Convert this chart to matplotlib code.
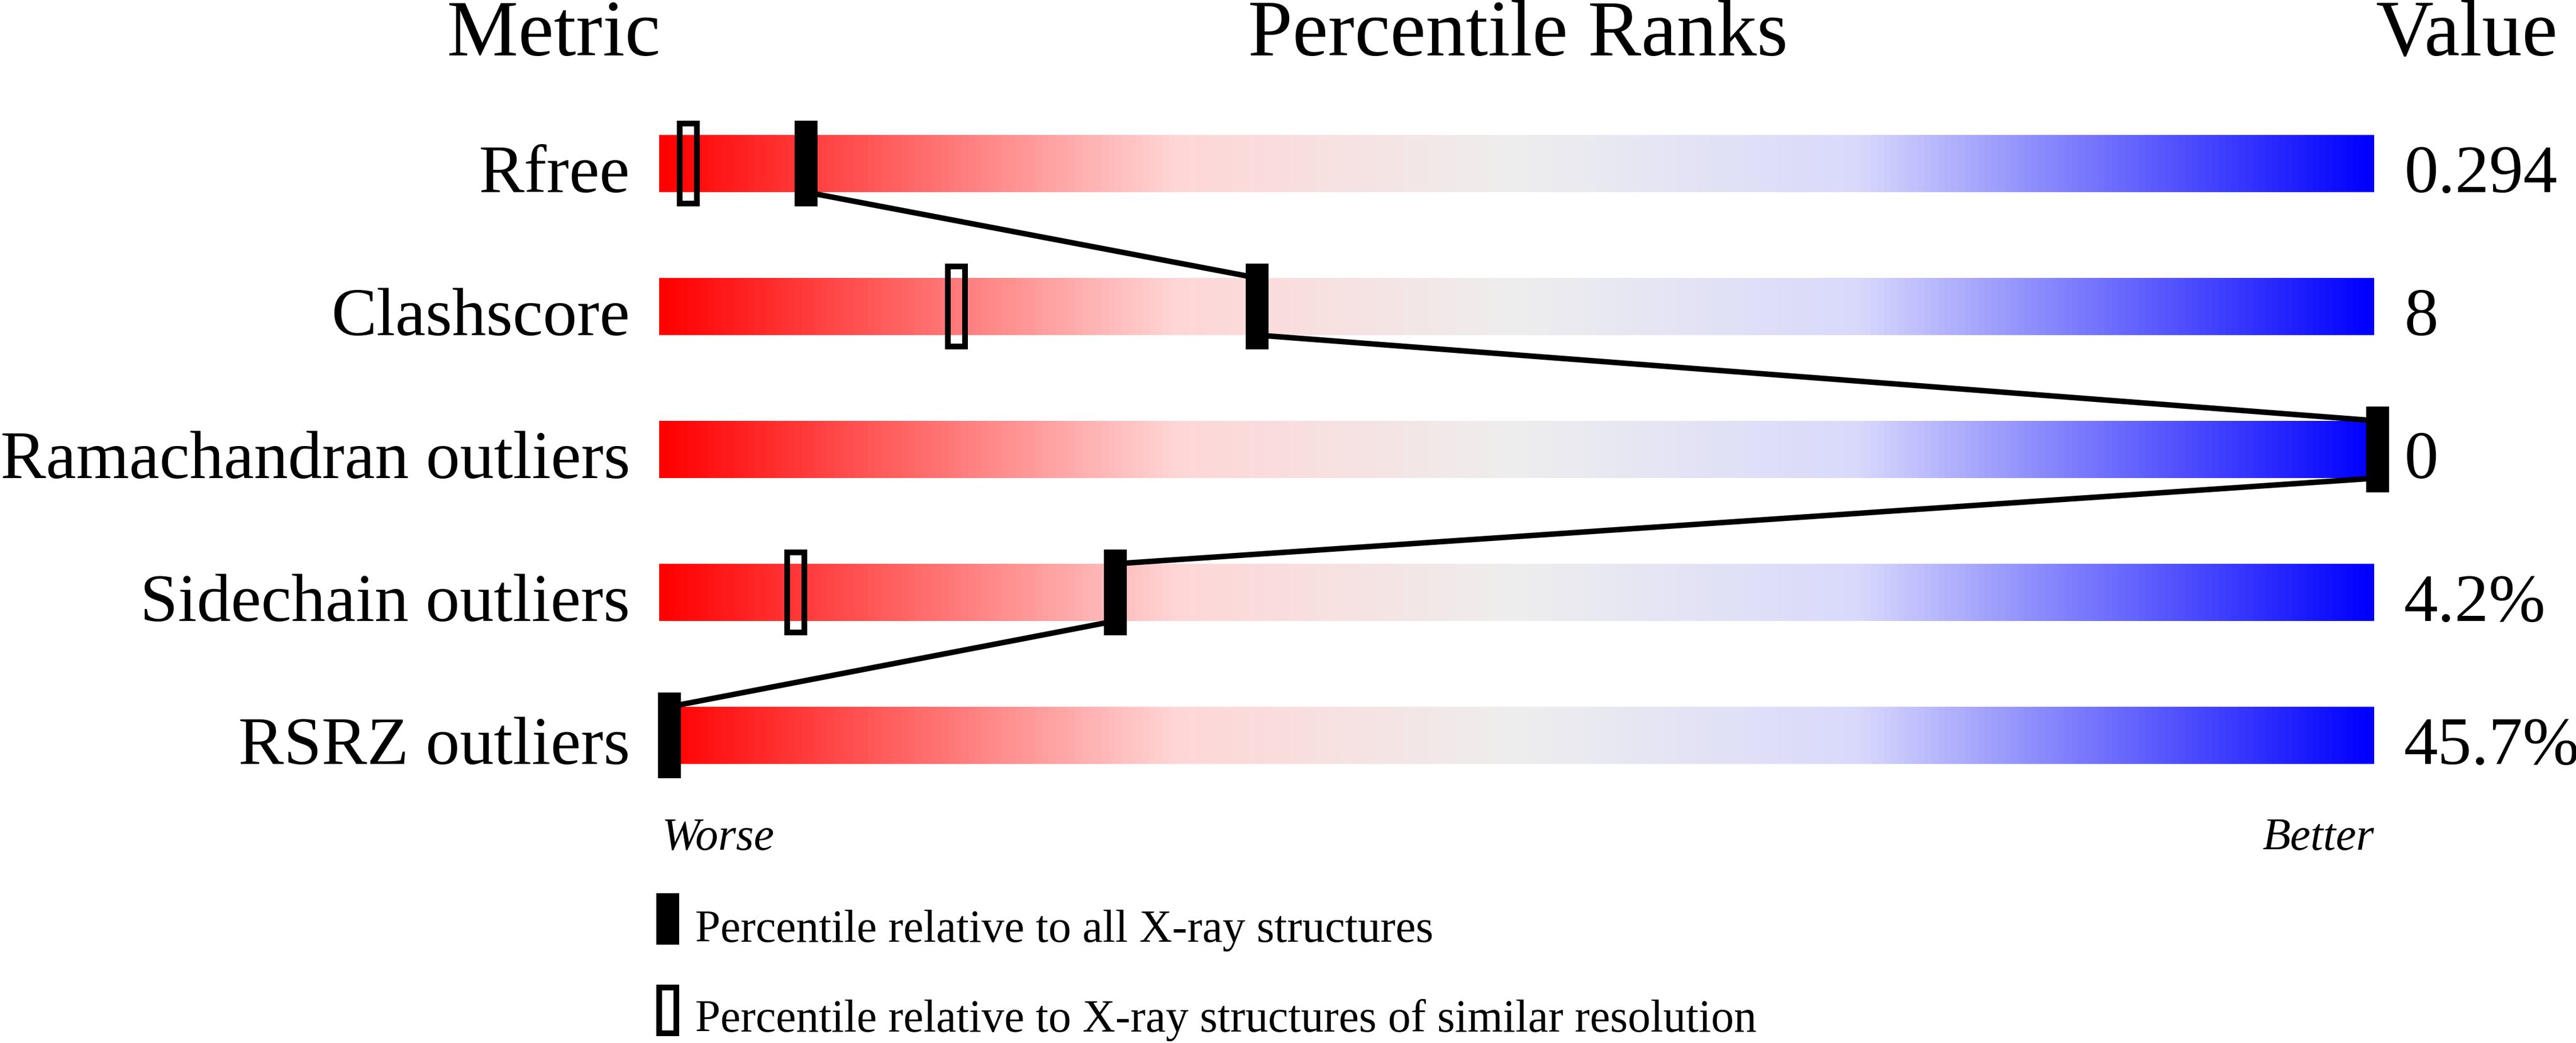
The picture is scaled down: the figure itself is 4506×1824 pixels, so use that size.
import numpy as np
import matplotlib
matplotlib.use('Agg')
import matplotlib.pyplot as plt
from matplotlib.colors import LinearSegmentedColormap
from matplotlib.patches import Rectangle
import matplotlib.transforms as mtransforms

# data
metrics = ['Rfree', 'Clashscore', 'Ramachandran outliers', 'Sidechain outliers', 'RSRZ outliers']
values = ['0.294', '8', '0', '4.2%', '45.7%']
pct_all = [8.0, 34.4, 100.0, 26.1, 0.0]       # percentile vs all X-ray structures
pct_sim = [1.1, 16.8, None, 7.4, None]        # percentile vs similar resolution
legend_labels = ['Percentile relative to all X-ray structures',
                 'Percentile relative to X-ray structures of similar resolution']

W, H = 4506, 1824
DPI = 300
SERIF = ['Liberation Serif', 'DejaVu Serif']
plt.rcParams['font.family'] = SERIF

fig = plt.figure(figsize=(W / DPI, H / DPI), dpi=DPI)

# slider area: bar from px 1153 to 4153, rows every 250 px
BAR_LO, BAR_HI = -0.6, 99.8
ax = fig.add_axes([1153 / W, 1 - 1411 / H, 3000 / W, 1250 / H])
ax.set_axis_off()

cmap = LinearSegmentedColormap.from_list('slider', [
    (0.0, '#ff0000'), (0.3, '#ffd6d6'), (0.5, '#eeeeee'),
    (0.7, '#d9d9fc'), (1.0, '#0000ff')])
grad = np.linspace(0, 1, 512).reshape(1, -1)

px_per_unit = 3000 / (BAR_HI - BAR_LO)
mw = 40 / px_per_unit      # filled marker width
hw = 30 / px_per_unit      # hollow marker width

for i, m in enumerate(metrics):
    ax.imshow(grad, cmap=cmap, aspect='auto', interpolation='bilinear',
              extent=(BAR_LO, BAR_HI, i + 0.2, i - 0.2), zorder=1)
    if pct_sim[i] is not None:
        ax.add_patch(Rectangle((pct_sim[i] - hw / 2, i - 0.28), hw, 0.56,
                               facecolor='none', edgecolor='black', lw=2.4,
                               zorder=3, clip_on=False))
    ax.add_patch(Rectangle((pct_all[i] - mw / 2, i - 0.3), mw, 0.6,
                           facecolor='black', edgecolor='none', zorder=4, clip_on=False))

# connecting line between the filled markers
for i in range(len(metrics) - 1):
    ax.plot([pct_all[i], pct_all[i + 1]], [i + 0.2, i + 1 - 0.2],
            color='black', lw=2.3, solid_capstyle='butt', zorder=2, clip_on=False)

ax.set_xlim(BAR_LO, BAR_HI)
ax.set_ylim(len(metrics) - 0.5, -0.5)

# row labels and values
tr = mtransforms.blended_transform_factory(fig.transFigure, ax.transData)
for i, m in enumerate(metrics):
    ax.text(1102 / W, i + 0.2, m, transform=tr, ha='right', va='baseline',
            fontsize=28.6, family=SERIF)
    ax.text(4205 / W, i + 0.2, values[i], transform=tr, ha='left', va='baseline',
            fontsize=28.6, family=SERIF)

# headers
for x, s, ha in [(1155, 'Metric', 'right'), (2655, 'Percentile Ranks', 'center'), (4155, 'Value', 'left')]:
    fig.text(x / W, 1 - 97 / H, s, ha=ha, va='baseline', fontsize=33.6, family=SERIF)

fig.text(1158 / W, 1 - 1486 / H, 'Worse', ha='left', va='baseline', fontsize=19.2,
         style='italic', family=SERIF)
fig.text(4153 / W, 1 - 1486 / H, 'Better', ha='right', va='baseline', fontsize=19.2,
         style='italic', family=SERIF)

# legend
fig.patches.append(Rectangle((1148 / W, 1 - 1652 / H), 40 / W, 90 / H,
                             facecolor='black', edgecolor='none', transform=fig.transFigure))
fig.patches.append(Rectangle((1153 / W, 1 - 1807 / H), 30 / W, 80 / H,
                             facecolor='none', edgecolor='black', lw=2.4, transform=fig.transFigure))
fig.text(1216 / W, 1 - 1647 / H, legend_labels[0], ha='left', va='baseline', fontsize=19.1, family=SERIF)
fig.text(1216 / W, 1 - 1804 / H, legend_labels[1], ha='left', va='baseline', fontsize=19.1, family=SERIF)

fig.savefig('out.png', dpi=DPI, facecolor='white')
